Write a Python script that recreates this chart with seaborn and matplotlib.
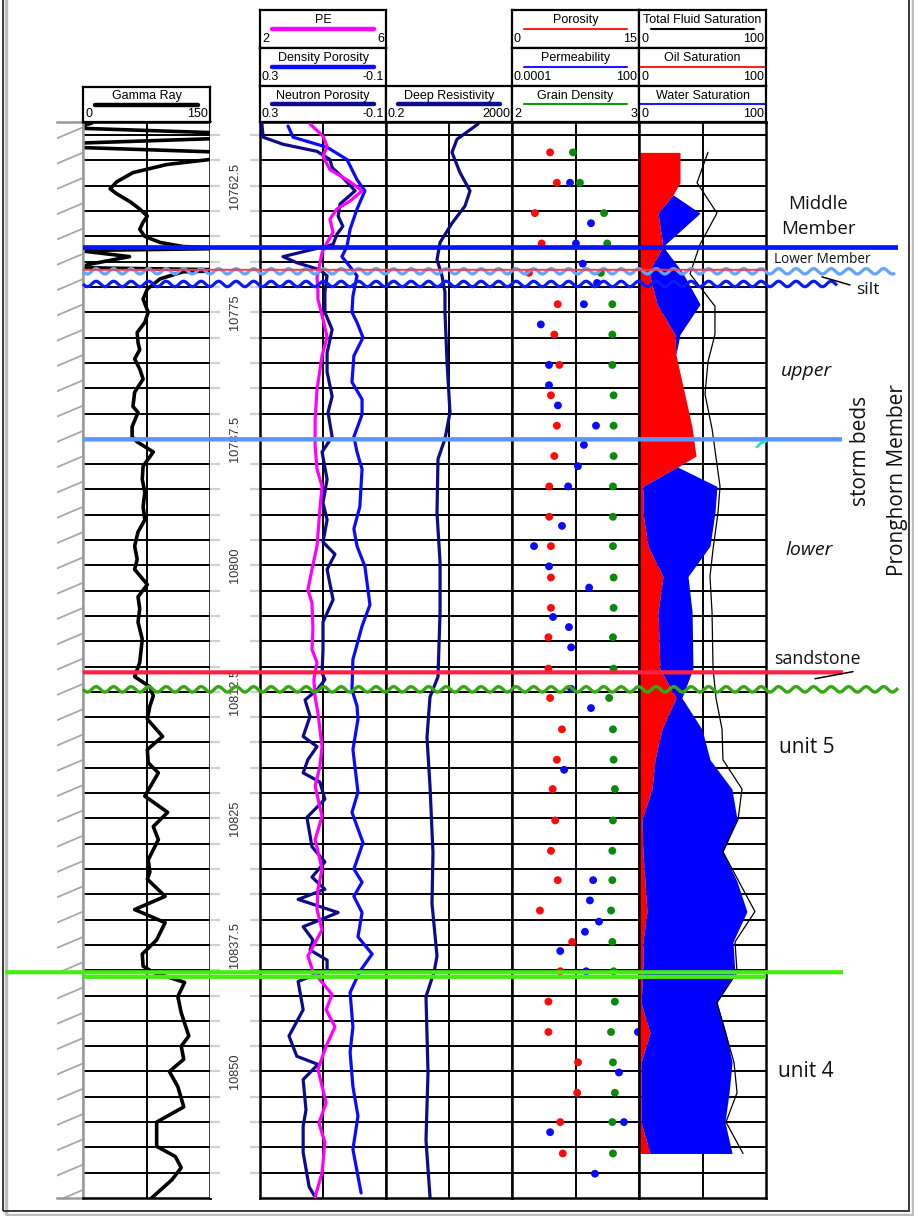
import numpy as np
import matplotlib
matplotlib.use("Agg")
import matplotlib.pyplot as plt
from matplotlib.patches import Rectangle
from matplotlib.ticker import NullLocator
import seaborn as sns

sns.set_theme(style="white")
plt.rcParams["font.family"] = ["Liberation Sans", "DejaVu Sans"]

# ---------------------------------------------------------------- data
GR_DEPTH = [10756.3, 10756.8, 10757.3, 10757.8, 10758.3, 10758.7, 10759.2, 10759.7, 10759.9, 10760.4,
            10761.2, 10762.1, 10762.8, 10763.3, 10764.1, 10764.8, 10765.5, 10766.1, 10766.8, 10767.5,
            10768.1, 10768.5, 10768.6, 10768.7, 10768.9, 10769.5, 10770.3, 10770.6, 10770.8, 10770.9,
            10771.0, 10771.7, 10772.7, 10773.7, 10775.0, 10776.0, 10777.0, 10778.0, 10778.7, 10779.6,
            10780.6, 10781.6, 10782.9, 10784.3, 10784.9, 10786.3, 10787.3, 10787.8, 10788.8, 10790.2,
            10791.5, 10792.8, 10794.2, 10795.5, 10796.7, 10798.1, 10799.4, 10800.4, 10801.9, 10803.1,
            10804.3, 10805.6, 10807.3, 10809.6, 10811.0, 10812.0, 10812.9, 10813.9, 10815.2, 10816.9,
            10818.2, 10819.5, 10820.5, 10822.8, 10824.4, 10825.8, 10827.1, 10829.1, 10830.3, 10831.0,
            10832.7, 10834.0, 10835.3, 10837.0, 10838.4, 10839.6, 10840.2, 10841.2, 10842.6, 10844.2,
            10846.5, 10847.5, 10848.8, 10850.0, 10851.5, 10853.5, 10855.0, 10857.4, 10858.4, 10859.5,
            10860.7, 10862.5]
GAMMA_RAY = [10.6, -10, 170, 170, -10, -10, 170, 170, 150, 99,
             59, 40, 32, 40, 56, 67, 76, 71, 67, 73,
             91, 118, 146, 165, -5, 55, 5, 1, 165, 165,
             118, 91, 76, 71, 77, 73, 64, 65, 67, 61,
             67, 71, 61, 59, 65, 58, 58, 64, 83, 71,
             70, 73, 71, 73, 65, 61, 64, 61, 76, 65,
             67, 65, 70, 67, 61, 79, 83, 79, 76, 94,
             76, 77, 89, 73, 100, 83, 89, 77, 79, 76,
             97, 61, 97, 87, 70, 71, 83, 120, 112, 116,
             125, 116, 119, 102, 112, 119, 87, 87, 109, 116,
             105, 81]

PE_DEPTH = [10756.4, 10757.6, 10758.6, 10759.6, 10760.9, 10762.1, 10763.0, 10764.0, 10764.8, 10765.8,
            10767.1, 10768.1, 10769.1, 10770.2, 10771.6, 10773.0, 10773.7, 10775.7, 10777.4, 10779.3,
            10782.6, 10785.6, 10788.2, 10790.5, 10792.2, 10794.5, 10798.1, 10800.4, 10802.4, 10803.7,
            10806.3, 10808.3, 10809.6, 10811.3, 10813.0, 10814.6, 10817.9, 10819.9, 10821.8, 10824.8,
            10827.1, 10830.0, 10832.0, 10834.0, 10836.0, 10838.6, 10840.1, 10842.4, 10843.9, 10845.6,
            10847.5, 10849.8, 10853.1, 10855.1, 10857.0, 10860.0, 10862.4]
PE = [3.59, 4.0, 4.13, 4.0, 4.22, 4.86, 5.24, 4.86, 4.44, 4.22,
      4.32, 4.13, 3.97, 3.90, 3.81, 3.84, 3.84, 4.0, 4.13, 3.97,
      3.81, 3.75, 3.75, 3.81, 3.97, 3.90, 3.81, 3.65, 3.52, 3.65,
      3.68, 3.65, 3.81, 3.71, 3.75, 3.84, 3.97, 3.90, 3.75, 3.97,
      3.75, 3.97, 3.84, 3.81, 3.97, 3.52, 3.68, 4.29, 4.10, 4.38,
      4.10, 3.84, 4.10, 3.87, 4.06, 3.97, 3.75]

DPHI_DEPTH = [10756.6, 10757.7, 10758.7, 10759.9, 10761.9, 10763.0, 10764.8, 10766.8, 10768.5, 10769.5,
              10770.5, 10771.4, 10773.4, 10775.0, 10776.0, 10777.5, 10779.3, 10781.9, 10783.6, 10785.1,
              10787.3, 10788.8, 10790.5, 10794.2, 10796.4, 10798.1, 10800.1, 10803.9, 10806.0, 10809.3,
              10812.3, 10813.9, 10815.2, 10818.2, 10822.4, 10824.4, 10827.4, 10830.0, 10831.3, 10832.7,
              10834.3, 10836.7, 10838.4, 10840.1, 10842.2, 10845.6, 10848.1, 10851.5, 10854.4, 10857.7,
              10862.0]
DENSITY_POROSITY = [0.211, 0.195, 0.087, 0.024, -0.008, -0.033, -0.008, 0.014, 0.024, 0.040,
                    0.014, -0.008, 0.005, 0.008, -0.008, -0.027, 0.002, 0.008, -0.024, -0.024,
                    0.002, -0.008, -0.024, -0.017, 0.002, -0.008, -0.033, -0.049, -0.024, 0.005,
                    0.008, -0.008, -0.011, 0.005, -0.011, 0.008, -0.027, 0.002, -0.024, 0.002,
                    -0.024, -0.011, -0.056, -0.017, 0.014, 0.005, 0.014, 0.005, -0.011, 0.005,
                    -0.021]

NPHI_DEPTH = [10756.4, 10757.7, 10758.4, 10759.1, 10759.9, 10760.7, 10761.7, 10763.0, 10764.3, 10765.5,
              10766.5, 10767.3, 10768.3, 10769.5, 10770.1, 10770.8, 10771.4, 10773.0, 10775.0, 10776.7,
              10779.0, 10780.9, 10783.3, 10784.9, 10787.3, 10788.8, 10791.5, 10793.8, 10795.5, 10797.7,
              10798.9, 10800.4, 10803.4, 10805.6, 10808.3, 10810.6, 10811.3, 10812.3, 10813.3, 10814.9,
              10816.9, 10817.9, 10819.2, 10820.5, 10821.4, 10823.1, 10824.9, 10827.8, 10829.3, 10830.8,
              10832.0, 10833.0, 10834.3, 10835.7, 10837.0, 10838.0, 10839.0, 10840.0, 10841.1, 10843.9,
              10846.5, 10848.5, 10849.3, 10850.8, 10853.8, 10855.4, 10858.0, 10861.4, 10862.4]
NEUTRON_POROSITY = [0.294, 0.290, 0.227, 0.119, 0.078, 0.071, 0.037, -0.002, 0.046, 0.052,
                    0.037, 0.056, 0.068, 0.227, 0.183, 0.110, 0.087, 0.094, 0.094, 0.071,
                    0.087, 0.087, 0.071, 0.084, 0.071, 0.103, 0.087, 0.100, 0.087, 0.100,
                    0.062, 0.087, 0.068, 0.100, 0.100, 0.103, 0.094, 0.119, 0.157, 0.141,
                    0.163, 0.119, 0.148, 0.163, 0.110, 0.094, 0.151, 0.135, 0.094, 0.135,
                    0.094, 0.179, 0.052, 0.163, 0.132, 0.141, 0.087, 0.087, 0.179, 0.163,
                    0.208, 0.183, 0.116, 0.163, 0.154, 0.163, 0.163, 0.144, 0.125]

RES_DEPTH = [10756.4, 10757.9, 10759.2, 10761.2, 10763.0, 10764.5, 10766.2, 10768.1, 10769.8, 10771.4,
             10773.0, 10775.0, 10779.9, 10784.9, 10787.5, 10789.5, 10794.8, 10799.7, 10804.6, 10811.0,
             10813.0, 10817.0, 10821.8, 10828.4, 10833.4, 10838.6, 10840.2, 10842.6, 10850.1, 10856.8,
             10862.4]
DEEP_RESISTIVITY = [167, 35.9, 24.9, 44.7, 92.9, 64.4, 24.9, 10.4, 8.32, 12.0,
                    14.9, 14.9, 17.3, 21.5, 14.9, 8.95, 8.32, 10.4, 10.4, 8.95,
                    4.99, 4.0, 4.99, 6.2, 5.77, 8.32, 6.68, 3.72, 4.31, 3.72,
                    4.99]

CORE_DEPTH = [10759.2, 10762.2, 10765.2, 10768.2, 10771.1, 10774.2, 10777.2, 10780.2, 10783.2, 10786.2,
              10789.2, 10792.2, 10795.2, 10798.1, 10801.2, 10804.2, 10807.1, 10810.2, 10813.1, 10816.2,
              10819.2, 10822.1, 10825.2, 10828.2, 10831.1, 10834.1, 10837.2, 10840.1, 10843.1, 10846.1,
              10849.1, 10852.1, 10855.0, 10858.1]
POROSITY = [4.5, 5.3, 2.7, 3.5, 2.0, 5.4, 5.0, 5.6, 4.6, 5.3,
            5.0, 4.4, 4.4, 4.6, 4.6, 4.6, 4.3, 4.3, 4.5, 5.9,
            5.3, 4.8, 5.1, 4.6, 5.4, 3.3, 7.1, 5.7, 4.3, 4.3,
            7.8, 7.7, 5.7, 6.0]
GRAIN_DENSITY = [2.48, 2.535, 2.725, 2.75, 2.70, 2.79, 2.79, 2.79, 2.80, 2.80,
                 2.80, 2.795, 2.795, 2.795, 2.80, 2.80, 2.795, 2.80, 2.765, 2.795,
                 2.80, 2.81, 2.795, 2.79, 2.79, 2.78, 2.79, 2.80, 2.81, 2.78,
                 2.795, 2.81, 2.79, 2.795]

PERM_DEPTH = [10762.2, 10766.2, 10768.2, 10770.2, 10772.1, 10774.2, 10776.2, 10780.2, 10782.2, 10784.2,
              10786.2, 10788.1, 10790.2, 10792.2, 10796.1, 10798.1, 10800.1, 10802.2, 10805.1, 10806.1,
              10808.1, 10812.2, 10814.1, 10820.2, 10831.1, 10833.1, 10835.2, 10836.2, 10838.1, 10840.1,
              10846.1, 10850.1, 10855.0, 10856.0, 10860.1]
PERMEABILITY = [0.055, 0.54, 0.105, 0.22, 1.04, 0.25, 0.0023, 0.0056, 0.0056, 0.0148,
                0.93, 0.25, 0.13, 0.045, 0.023, 0.0011, 0.0056, 0.44, 0.0087, 0.049,
                0.062, 0.062, 0.54, 0.029, 0.68, 0.48, 1.29, 0.28, 0.019, 0.32,
                89, 11.3, 19.5, 0.0063, 0.83]

SAT_DEPTH = [10759.2, 10762.2, 10763.4, 10765.2, 10768.5, 10771.0, 10774.2, 10777.2, 10779.2, 10786.3,
             10789.2, 10790.3, 10792.2, 10794.8, 10798.1, 10801.1, 10804.6, 10810.2, 10813.1, 10816.2,
             10819.2, 10822.1, 10825.1, 10828.3, 10831.2, 10834.2, 10837.2, 10840.2, 10843.2, 10846.2,
             10849.1, 10852.1, 10855.0, 10858.1]
OIL_SATURATION = [32.3, 32.3, 26.8, 15.0, 18.9, 7.9, 14.2, 28.3, 29.1, 41.7,
                  44.9, 29.9, 3.1, 3.1, 7.1, 18.9, 15.0, 16.5, 29.1, 18.1,
                  12.6, 10.2, 2.4, 3.1, 4.7, 6.3, 3.1, 3.1, 1.6, 8.7,
                  1.6, 1.6, 1.6, 8.7]
WATER_SATURATION = [0, 0, 0, 33.1, 0, 26.0, 33.9, 3.9, 0, 0,
                    0, 0.8, 58.3, 56.7, 48.8, 19.7, 26.8, 26.0, 4.7, 31.5,
                    43.3, 63.0, 74.8, 63.0, 72.4, 78.7, 70.9, 72.4, 59.8, 59.8,
                    71.7, 69.3, 66.1, 64.6]

TF_DEPTH = [10759.2, 10762.2, 10765.2, 10768.3, 10771.2, 10774.4, 10777.2, 10779.9, 10783.1, 10786.5,
            10792.2, 10794.8, 10798.4, 10801.1, 10804.6, 10810.2, 10813.1, 10816.2, 10819.2, 10822.1,
            10825.1, 10828.3, 10834.2, 10837.2, 10840.2, 10843.2, 10849.1, 10852.1, 10855.0, 10858.1]
TOTAL_FLUID = [54.3, 45.7, 61.4, 48.0, 40.2, 59.8, 59.8, 54.3, 52.0, 57.5,
               63.8, 62.2, 58.3, 55.9, 57.5, 58.3, 60.6, 65.4, 66.1, 81.1,
               78.0, 66.1, 91.3, 75.6, 77.2, 61.4, 74.8, 77.2, 68.5, 81.9]

DEPTH_LABELS = [10762.5, 10775, 10787.5, 10800, 10812.5, 10825, 10837.5, 10850]

# formation tops: (depth, x-start px, x-end px, colour, width, wavy)
TOPS = [
    (10768.6, 83, 898, "#0a14ff", 3.4, False),
    (10770.95, 83, 895, "#62a4ff", 2.3, True),
    (10770.8, 83, 766, "#ff3b3b", 1.4, False),
    (10772.2, 83, 837, "#0a1aff", 2.3, True),
    (10787.55, 83, 842, "#5b95ff", 3.2, False),
    (10810.57, 83, 843, "#ff1f45", 3.0, False),
    (10812.25, 83, 898, "#33aa11", 2.4, True),
    (10840.2, 5, 843, "#44ee11", 3.0, False),
    (10840.65, 83, 766, "#44ee11", 3.0, False),
]

# annotations: (text, x px, depth, size, style, rotation)
NOTES = [
    ("Middle", 818, 10764.3, 13.5, "normal", 0),
    ("Member", 818, 10766.8, 13.5, "normal", 0),
    ("Lower Member", 822, 10769.8, 9.8, "normal", 0),
    ("silt", 868, 10772.8, 12.5, "normal", 0),
    ("upper", 807, 10780.8, 14.0, "italic", 0),
    ("storm beds", 860, 10788.7, 15.0, "normal", 90),
    ("Pronghorn Member", 897, 10791.6, 15.0, "normal", 90),
    ("lower", 809, 10798.5, 14.0, "italic", 0),
    ("sandstone", 817, 10809.3, 12.8, "normal", 0),
    ("unit 5", 807, 10818.0, 15.0, "normal", 0),
    ("unit 4", 806, 10850.0, 15.0, "normal", 0),
]

# ---------------------------------------------------------------- layout
W, H = 914, 1216
fig = plt.figure(figsize=(W / 100, H / 100), dpi=100)
fig.patch.set_facecolor("white")

D_TOP, D_BOT = 10756.2, 10862.5
Y_TOP, Y_BOT = 122, 1198
GRID = np.arange(10757.5, 10861.0, 2.5)


def rect(x0, x1, y0, y1):
    return [x0 / W, 1 - y1 / H, (x1 - x0) / W, (y1 - y0) / H]


def base_axes(x0, x1, xlim, scale="linear"):
    ax = fig.add_axes(rect(x0, x1, Y_TOP, Y_BOT))
    ax.set_xscale(scale)
    ax.set_xlim(*xlim)
    ax.set_ylim(D_BOT, D_TOP)
    return ax


def track(x0, x1, xlim, mid, scale="linear"):
    ax = base_axes(x0, x1, xlim, scale)
    ax.set_facecolor("white")
    ax.set_yticks(GRID)
    ax.set_xticks([])
    ax.xaxis.set_minor_locator(NullLocator())
    ax.yaxis.set_minor_locator(NullLocator())
    ax.tick_params(axis="both", which="both", length=0, labelleft=False, labelbottom=False)
    ax.set_axisbelow(True)
    ax.grid(True, axis="y", color="black", lw=1.4)
    ax.grid(False, axis="x")
    ax.axvline(mid, color="black", lw=1.4, zorder=0.6)
    for s in ax.spines.values():
        s.set_color("black")
        s.set_linewidth(1.8)
    return ax


def layer(x0, x1, xlim, scale="linear"):
    ax = base_axes(x0, x1, xlim, scale)
    ax.axis("off")
    return ax


def curve(ax, x, y, color, lw, xlim):
    sns.lineplot(x=x, y=y, sort=False, estimator=None, color=color, linewidth=lw,
                 ax=ax, legend=False, solid_joinstyle="round", solid_capstyle="round")
    ax.set_xlim(*xlim)
    ax.set_ylim(D_BOT, D_TOP)
    ax.set_xlabel("")
    ax.set_ylabel("")


def dots(ax, x, y, color, xlim):
    sns.scatterplot(x=x, y=y, color=color, s=32, edgecolor="none", ax=ax, legend=False, zorder=3)
    ax.set_xlim(*xlim)
    ax.set_ylim(D_BOT, D_TOP)
    ax.set_xlabel("")
    ax.set_ylabel("")


# hatched column
axh = fig.add_axes(rect(57, 83, Y_TOP, Y_BOT))
axh.set_xlim(0, 26)
axh.set_ylim(Y_BOT - Y_TOP, 0)
for yy in np.arange(-20, 1110, 25.3):
    axh.plot([0, 26], [yy + 11, yy], color="#a8a8a8", lw=1.3)
axh.set_xticks([])
axh.set_yticks([])
axh.spines["left"].set_visible(False)
for k in ("right", "top", "bottom"):
    axh.spines[k].set_color("#9a9a9a")
    axh.spines[k].set_linewidth(1.8)

# Track 1: gamma ray
GR_LIM = (0, 150)
t1 = track(83, 210, GR_LIM, 75)
curve(t1, GAMMA_RAY, GR_DEPTH, "black", 2.6, GR_LIM)
t1.spines["left"].set_color("#9a9a9a")

# depth column
axd = fig.add_axes(rect(210, 260, Y_TOP, Y_BOT))
axd.set_xlim(0, 1)
axd.set_ylim(D_BOT, D_TOP)
axd.set_yticks(GRID)
axd.set_xticks([])
axd.yaxis.set_minor_locator(NullLocator())
axd.tick_params(axis="y", which="major", left=True, right=True, direction="in", length=7,
                width=1.6, color="#d0d0d0", labelleft=False)
for s in axd.spines.values():
    s.set_visible(False)
for d in DEPTH_LABELS:
    axd.text(0.5, d, f"{d:g}", rotation=90, ha="center", va="center", fontsize=9.2, color="#333333")

# Track 2: PE, density porosity, neutron porosity
PE_LIM = (2, 6)
PHI_LIM = (0.3, -0.1)
t2 = track(260, 386, PE_LIM, 4)
l2 = layer(260, 386, PHI_LIM)
curve(l2, NEUTRON_POROSITY, NPHI_DEPTH, "#0b0b8c", 2.3, PHI_LIM)
curve(l2, DENSITY_POROSITY, DPHI_DEPTH, "#0a0aff", 2.3, PHI_LIM)
l2b = layer(260, 386, PE_LIM)
curve(l2b, PE, PE_DEPTH, "#ff00ff", 2.3, PE_LIM)

# Track 3: deep resistivity
RES_LIM = (0.2, 2000)
t3 = track(386, 512, RES_LIM, 20, scale="log")
curve(t3, DEEP_RESISTIVITY, RES_DEPTH, "#0b0b8c", 2.3, RES_LIM)

# Track 4: core porosity, permeability, grain density
POR_LIM = (0, 15)
PERM_LIM = (1e-4, 100)
GD_LIM = (2, 3)
t4 = track(512, 639, POR_LIM, 7.5)
l4a = layer(512, 639, GD_LIM)
dots(l4a, GRAIN_DENSITY, CORE_DEPTH, "#0a8a0a", GD_LIM)
l4b = layer(512, 639, PERM_LIM, scale="log")
dots(l4b, PERMEABILITY, PERM_DEPTH, "#0a0aff", PERM_LIM)
l4c = layer(512, 639, POR_LIM)
dots(l4c, POROSITY, CORE_DEPTH, "#ff0a0a", POR_LIM)

# Track 5: saturations
SAT_LIM = (0, 100)
t5 = track(639, 766, SAT_LIM, 50)
oil = np.array(OIL_SATURATION)
water = np.array(WATER_SATURATION)
t5.fill_betweenx(SAT_DEPTH, 0, oil, color="#ff0000", lw=0, zorder=2)
t5.fill_betweenx(SAT_DEPTH, oil, oil + water, color="#0000ff", lw=0, zorder=2)
curve(t5, TOTAL_FLUID, TF_DEPTH, "black", 0.9, SAT_LIM)

# ---------------------------------------------------------------- headers
HFS = 9.0


def header(x0, x1, y0, y1, title, color, lo, hi, lw=3.0, full=False):
    ax = fig.add_axes(rect(x0, x1, y0, y1))
    ax.set_xlim(0, 1)
    ax.set_ylim(1, 0)
    ax.set_xticks([])
    ax.set_yticks([])
    for s in ax.spines.values():
        s.set_color("black")
        s.set_linewidth(1.6)
    w = x1 - x0
    ax.text(0.5, 0.27, title, ha="center", va="center", fontsize=HFS, color="black")
    if full:
        ax.plot([0, 1], [0.5, 0.5], color=color, lw=lw, solid_capstyle="butt")
    else:
        ax.plot([12 / w, 1 - 12 / w], [0.5, 0.5], color=color, lw=lw, solid_capstyle="round")
    ax.text(2 / w, 0.77, lo, ha="left", va="center", fontsize=HFS, color="black")
    ax.text(1 - 2 / w, 0.77, hi, ha="right", va="center", fontsize=HFS, color="black")


header(83, 210, 87, 122, "Gamma Ray", "black", "0", "150", lw=3.2)
header(260, 386, 10, 48, "PE", "#ff00ff", "2", "6", lw=3.2)
header(260, 386, 48, 86, "Density Porosity", "#0a0aff", "0.3", "-0.1", lw=3.2)
header(260, 386, 86, 122, "Neutron Porosity", "#0b0b8c", "0.3", "-0.1", lw=3.2)
header(386, 512, 86, 122, "Deep Resistivity", "#0b0b8c", "0.2", "2000", lw=3.2)
header(512, 639, 10, 48, "Porosity", "#ff2020", "0", "15", lw=1.5)
header(512, 639, 48, 86, "Permeability", "#1a1aff", "0.0001", "100", lw=1.5)
header(512, 639, 86, 122, "Grain Density", "#0a9a0a", "2", "3", lw=1.5)
header(639, 766, 10, 48, "Total Fluid Saturation", "black", "0", "100", lw=1.5)
header(639, 766, 48, 86, "Oil Saturation", "#ff2020", "0", "100", lw=1.5, full=True)
header(639, 766, 86, 122, "Water Saturation", "#1a1aff", "0", "100", lw=1.5, full=True)

# ---------------------------------------------------------------- overlay: tops + notes
ov = fig.add_axes([0, 1 - Y_BOT / H, 1, (Y_BOT - Y_TOP) / H])
ov.set_xlim(0, W)
ov.set_ylim(D_BOT, D_TOP)
ov.axis("off")
ov.set_zorder(5)

for depth, xa, xb, col, lw, wavy in TOPS:
    xs = np.linspace(xa, xb, 1500)
    if wavy:
        ys = depth + 0.27 * np.sin(2 * np.pi * (xs - xa) / 17.5)
    else:
        ys = np.full_like(xs, depth)
    ov.plot(xs, ys, color=col, lw=lw, solid_capstyle="butt", clip_on=False)

# leader lines and small cyan mark
ov.plot([822, 850], [10771.5, 10772.3], color="black", lw=1.1)
ov.plot([815, 853], [10811.2, 10810.5], color="black", lw=1.1)
ov.plot([757, 761, 766], [10788.3, 10787.9, 10787.75], color="#22dddd", lw=2.0)

for txt, xp, d, fs, style, rot in NOTES:
    ov.text(xp, d, txt, ha="center", va="center", fontsize=fs, fontstyle=style, rotation=rot,
            family=["Open Sans", "DejaVu Sans"], color="#111111")

# outer frame with shadow (top edge lies above the picture)
fig.add_artist(Rectangle((6 / W, 1 - 1215 / H), 907 / W, 1240 / H, transform=fig.transFigure,
                         fill=False, edgecolor="#bdbdbd", lw=2.5))
fig.add_artist(Rectangle((3 / W, 1 - 1211 / H), 906 / W, 1240 / H, transform=fig.transFigure,
                         fill=False, edgecolor="#3a3a3a", lw=1.4))

fig.savefig("out.png", dpi=100, facecolor="white")
